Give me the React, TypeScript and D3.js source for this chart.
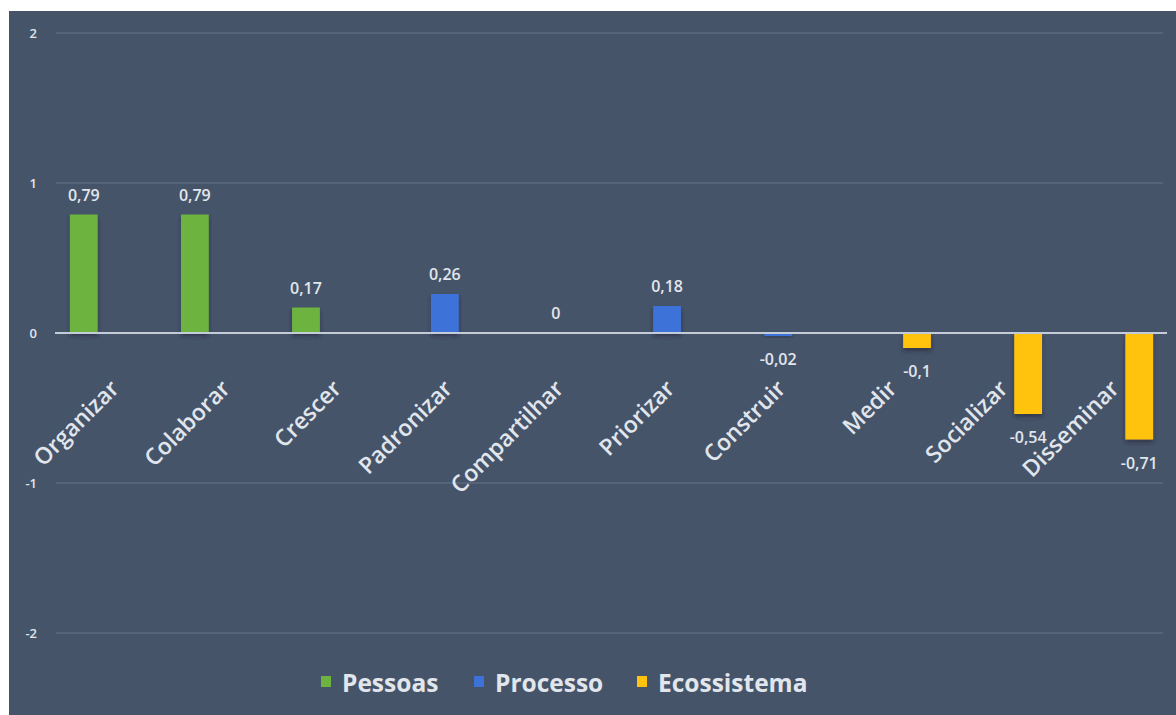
import React from "react";
import * as d3 from "d3";

const categories = ["Organizar", "Colaborar", "Crescer", "Padronizar", "Compartilhar", "Priorizar", "Construir", "Medir", "Socializar", "Disseminar"];
const seriesNames = ["Pessoas", "Processo", "Ecossistema"];
const pessoas: (number | null)[] = [0.79, 0.79, 0.17, null, null, null, null, null, null, null];
const processo: (number | null)[] = [null, null, null, 0.26, 0, 0.18, -0.02, null, null, null];
const ecossistema: (number | null)[] = [null, null, null, null, null, null, null, -0.1, -0.54, -0.71];
const yTicks = [-2, -1, 0, 1, 2];
const seriesColors = ["#6db33f", "#3d72d9", "#ffc20e"];

const W = 1176;
const H = 715;
const FONT = "'Open Sans', 'DejaVu Sans', sans-serif";
const TEXT = "#e1e6ec";

export default function App() {
  const seriesValues = [pessoas, processo, ecossistema];
  const x0 = d3.scaleBand<string>().domain(categories).range([56, 1167]).paddingInner(0.25).paddingOuter(0.125);
  const x1 = d3.scaleBand<string>().domain(seriesNames).range([0, x0.bandwidth()]).padding(0);
  const y = d3.scaleLinear().domain([-2, 2]).range([633, 33]);
  const fmt = (v: number) => String(v).replace(".", ",");

  const legendItems = [
    { name: "Pessoas", x: 321, color: seriesColors[0] },
    { name: "Processo", x: 474, color: seriesColors[1] },
    { name: "Ecossistema", x: 637, color: seriesColors[2] },
  ];

  return (
    <svg width={W} height={H} style={{ position: "absolute", left: 0, top: 0 }} fontFamily={FONT}>
      <defs>
        <filter id="shadow" x="-50%" y="-50%" width="200%" height="200%">
          <feDropShadow dx="0" dy="3" stdDeviation="2" floodColor="#1b2230" floodOpacity="0.55" />
        </filter>
      </defs>
      <rect x={0} y={0} width={W} height={H} fill="#ffffff" />
      <rect x={9} y={11} width={W - 9} height={H - 11} fill="#46546a" />
      {yTicks.filter((t) => t !== 0).map((t) => (
        <line key={"g" + t} x1={56} x2={1163} y1={y(t)} y2={y(t)} stroke="#55647b" strokeWidth={2} />
      ))}
      {yTicks.map((t) => (
        <text key={"t" + t} x={37} y={y(t)} dy="0.35em" textAnchor="end" fontSize={13} fontWeight={600} fill={TEXT}>
          {t}
        </text>
      ))}
      {seriesValues.map((vals, si) =>
        vals.map((v, ci) => {
          if (v === null) return null;
          const bx = (x0(categories[ci]) as number) + (x1(seriesNames[si]) as number);
          const bw = x1.bandwidth();
          const top = y(Math.max(0, v));
          const h = Math.abs(y(v) - y(0));
          return (
            <g key={`b${si}-${ci}`}>
              {h > 0 && (
                <rect x={bx} y={top} width={bw} height={h} fill={seriesColors[si]} filter="url(#shadow)" />
              )}
              <text
                x={bx + bw / 2}
                y={v >= 0 ? y(v) - 14 : y(v) + 29}
                textAnchor="middle"
                fontSize={16}
                fontWeight={600}
                fill={TEXT}
              >
                {fmt(v)}
              </text>
            </g>
          );
        })
      )}
      <line x1={55} x2={1167} y1={y(0)} y2={y(0)} stroke="#c3ccd8" strokeWidth={2} />
      {categories.map((c) => {
        const cx = (x0(c) as number) + x0.bandwidth() / 2 + 9;
        const cy = 390;
        return (
          <text
            key={"c" + c}
            x={cx}
            y={cy}
            transform={`rotate(-45 ${cx} ${cy})`}
            textAnchor="end"
            fontSize={23}
            fontWeight={600}
            fill={TEXT}
          >
            {c}
          </text>
        );
      })}
      {legendItems.map((l) => (
        <g key={"l" + l.name}>
          <rect x={l.x} y={676} width={10} height={11} fill={l.color} />
          <text x={l.x + 21} y={692} fontSize={24.5} fontWeight={700} fill={TEXT}>
            {l.name}
          </text>
        </g>
      ))}
    </svg>
  );
}
